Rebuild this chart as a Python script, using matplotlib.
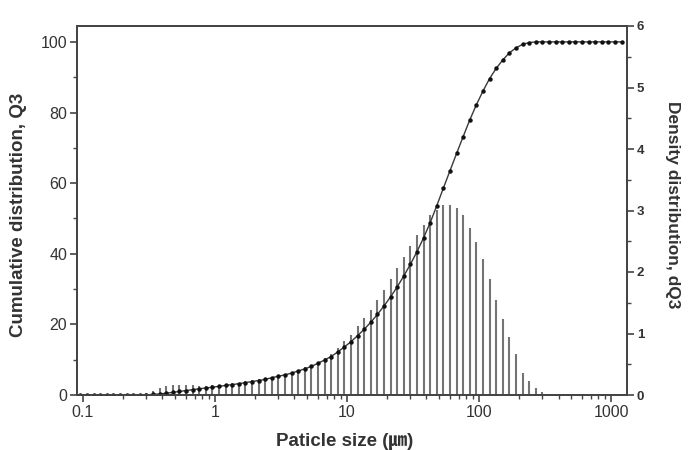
import matplotlib
matplotlib.use("Agg")
import matplotlib.pyplot as plt
from matplotlib.ticker import FixedLocator, MultipleLocator, LogLocator, NullFormatter

plt.rcParams['font.family'] = ['Liberation Sans', 'Noto Sans CJK JP', 'DejaVu Sans']

# particle size classes (µm)
sizes = [0.0955, 0.1072, 0.1202, 0.1349, 0.1514, 0.1698, 0.1905, 0.2138, 0.2399, 0.2691,
         0.3020, 0.3388, 0.3802, 0.4266, 0.4786, 0.5370, 0.6026, 0.6761, 0.7586, 0.8512,
         0.955, 1.072, 1.202, 1.349, 1.514, 1.698, 1.905, 2.138, 2.399, 2.691,
         3.020, 3.388, 3.802, 4.266, 4.786, 5.370, 6.026, 6.761, 7.586, 8.512,
         9.55, 10.72, 12.02, 13.49, 15.14, 16.98, 19.05, 21.38, 23.99, 26.91,
         30.20, 33.88, 38.02, 42.66, 47.86, 53.70, 60.26, 67.61, 75.86, 85.12,
         95.5, 107.2, 120.2, 134.9, 151.4, 169.8, 190.5, 213.8, 239.9, 269.1,
         302.0, 338.8, 380.2, 426.6, 478.6, 537.0, 602.6, 676.1, 758.6, 851.2,
         955.0, 1072.0, 1202.0]

# density distribution dQ3 (right axis)
density = [0, 0, 0, 0, 0, 0, 0, 0, 0, 0,
           0.04, 0.06, 0.11, 0.14, 0.16, 0.16, 0.16, 0.16, 0.15, 0.15,
           0.16, 0.17, 0.18, 0.19, 0.20, 0.22, 0.24, 0.26, 0.28, 0.30,
           0.31, 0.34, 0.37, 0.41, 0.45, 0.49, 0.54, 0.60, 0.67, 0.76,
           0.87, 0.98, 1.12, 1.25, 1.38, 1.54, 1.71, 1.88, 2.06, 2.25,
           2.42, 2.60, 2.76, 2.93, 3.01, 3.09, 3.09, 3.04, 2.93, 2.72,
           2.48, 2.21, 1.88, 1.54, 1.23, 0.95, 0.67, 0.36, 0.23, 0.12,
           0.05, 0, 0, 0, 0, 0, 0, 0, 0, 0,
           0, 0, 0]

# cumulative distribution Q3 (left axis)
cumulative = [0, 0, 0, 0, 0, 0, 0, 0, 0, 0,
              0.05, 0.15, 0.3, 0.5, 0.75, 1.0, 1.25, 1.5, 1.75, 2.0,
              2.2, 2.45, 2.7, 2.95, 3.2, 3.5, 3.8, 4.1, 4.4, 4.9,
              5.3, 5.7, 6.2, 6.8, 7.4, 8.1, 9.0, 9.9, 10.9, 12.2,
              13.6, 15.1, 16.8, 18.6, 20.6, 22.8, 25.2, 27.8, 30.6, 33.7,
              37.0, 40.6, 44.5, 48.8, 53.6, 58.6, 63.5, 68.4, 73.2, 77.9,
              82.2, 86.1, 89.6, 92.5, 94.9, 96.9, 98.3, 99.3, 99.8, 100,
              100, 100, 100, 100, 100, 100, 100, 100, 100, 100,
              100, 100, 100]

x_ticks = [0.1, 1, 10, 100, 1000]
x_tick_labels = ['0.1', '1', '10', '100', '1000']

dark = '#333333'

fig = plt.figure(figsize=(6.89, 4.5), dpi=100)
ax = fig.add_axes([77/689, 55/450, 550/689, 369/450])
ax2 = ax.twinx()

ax2.vlines(sizes, 0, density, color='#747474', linewidth=1.5)
ax.plot(sizes, cumulative, '-', color='#3a3a3a', linewidth=1.0,
        marker='o', markersize=2.2, markerfacecolor='#111111', markeredgecolor='#111111')

ax.set_zorder(ax2.get_zorder() + 1)
ax.patch.set_visible(False)

ax.set_xscale('log')
ax.set_xlim(0.0901, 1321)
ax.set_ylim(0, 104.5)
ax2.set_ylim(0, 6)

ax.xaxis.set_major_locator(FixedLocator(x_ticks))
ax.set_xticklabels(x_tick_labels)
ax.xaxis.set_minor_locator(LogLocator(base=10, subs=range(2, 10), numticks=20))
ax.xaxis.set_minor_formatter(NullFormatter())

ax.yaxis.set_major_locator(MultipleLocator(20))
ax.yaxis.set_minor_locator(MultipleLocator(10))
ax2.yaxis.set_major_locator(MultipleLocator(1))
ax2.yaxis.set_minor_locator(MultipleLocator(0.5))

for a in (ax, ax2):
    for s in a.spines.values():
        s.set_color('#444444')
        s.set_linewidth(1.3)
    a.tick_params(which='major', direction='out', length=5, width=1.2, color='#444444',
                  labelsize=11.5, labelcolor=dark, pad=2)
    a.tick_params(which='minor', direction='out', length=3, width=1.0, color='#444444')
ax.tick_params(axis='y', right=False)
ax.tick_params(axis='x', top=False)
ax2.tick_params(axis='y', which='major', labelsize=9.5)
for lbl in ax2.get_yticklabels():
    lbl.set_fontweight('bold')

ax.set_ylabel('Cumulative distribution, Q3', fontsize=13.5, fontweight='bold', color=dark, va='center')
ax.yaxis.set_label_coords(-0.106, 0.488)
ax2.set_ylabel('Density distribution, dQ3', fontsize=12.5, fontweight='bold', color=dark,
               rotation=270, va='center')
ax2.yaxis.set_label_coords(1.0836, 0.515)
ax.set_xlabel('Paticle size (㎛)', fontsize=13.5, fontweight='bold', color=dark, va='top')
ax.xaxis.set_label_coords(0.487, -0.104)

fig.savefig('out.png', dpi=100)
